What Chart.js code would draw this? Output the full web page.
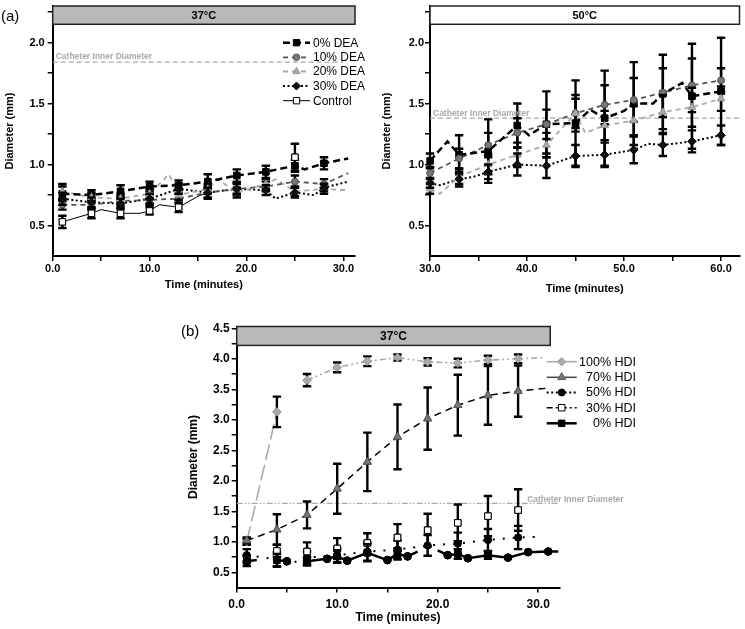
<!DOCTYPE html>
<html><head><meta charset="utf-8">
<script src="https://cdn.jsdelivr.net/npm/chart.js@4.4.1/dist/chart.umd.min.js"></script>
<style>
html,body{margin:0;padding:0;background:#fff;width:745px;height:629px;overflow:hidden}
.box{position:absolute}
.lab{position:absolute;font:15px "Liberation Sans",Arial,sans-serif;color:#000;z-index:5}
</style></head><body>
<div class="box" style="left:0;top:0;width:370px;height:300px"><canvas id="cA"></canvas></div>
<div class="box" style="left:370px;top:0;width:375px;height:300px"><canvas id="cB"></canvas></div>
<div class="box" style="left:170px;top:300px;width:480px;height:329px"><canvas id="cC"></canvas></div>
<div class="lab" style="left:1px;top:7px">(a)</div>
<div class="lab" style="left:181px;top:322px">(b)</div>
<script>
// ================= DATA =================
// Panel (a) – 37 °C, DEA series (time in minutes, diameter in mm, error = ±SD; null error = no marker)
const a37_dea0_t = [1,4,7,10,13,16,19,22,25,26,28,30.5];
const a37_dea0_v = [0.76,0.75,0.78,0.82,0.83,0.86,0.91,0.94,0.99,0.96,1.01,1.05];
const a37_dea0_e = [0.06,0.04,0.05,0.04,0.04,0.06,0.05,0.05,0.05,null,0.05,null];
const a37_dea10_t = [1,4,7,10,13,16,19,22,25,28,30.5];
const a37_dea10_v = [0.67,0.67,0.70,0.71,0.72,0.77,0.80,0.82,0.86,0.84,0.93];
const a37_dea10_e = [0.04,0.04,0.04,0.04,0.04,0.05,0.05,0.04,0.05,0.04,null];
const a37_dea20_t = [1,4,7,10,12,13,16,17,19,22,23,25,28,30.5];
const a37_dea20_v = [0.78,0.73,0.72,0.76,0.92,0.75,0.80,0.88,0.77,0.84,0.88,0.78,0.80,0.79];
const a37_dea20_e = [0.06,0.04,0.04,0.04,null,0.04,0.04,null,0.04,0.04,null,0.04,0.04,null];
const a37_dea30_t = [1,4,7,10,13,16,19,22,23,25,27,28,30.5];
const a37_dea30_v = [0.72,0.69,0.68,0.72,0.80,0.77,0.80,0.79,0.72,0.77,0.75,0.81,0.86];
const a37_dea30_e = [0.05,0.04,0.04,0.04,0.04,0.04,0.04,0.04,null,0.04,null,0.03,null];
const a37_ctrl_t = [1,4,5,7,9,10,11,13,15,16,17,25];
const a37_ctrl_v = [0.53,0.60,0.63,0.60,0.60,0.62,0.67,0.65,0.74,0.77,null,1.06];
const a37_ctrl_e = [0.05,0.04,null,0.04,null,0.03,null,0.04,null,null,null,0.11];
const a37_cath_t = [0,30];
const a37_cath_v = [1.84,1.84];

// Panel (a) – 50 °C
const a50_dea0_t = [30,31.8,33,36,39,40.2,42,45,46.5,48,50,51,53,54,56,57,60];
const a50_dea0_v = [1.03,1.19,1.08,1.11,1.32,1.24,1.33,1.34,1.45,1.38,1.44,1.50,1.50,1.58,1.67,1.56,1.60];
const a50_dea0_e = [0.06,null,0.16,0.26,0.18,null,0.27,0.35,null,0.39,null,0.34,null,0.32,null,0.43,0.44];
const a50_dea10_t = [30,33,36,39,42,45,48,51,54,57,60];
const a50_dea10_v = [0.93,1.05,1.16,1.26,1.33,1.42,1.49,1.53,1.59,1.65,1.69];
const a50_dea10_e = [0.05,0.08,0.10,0.12,0.12,0.15,0.16,0.18,0.20,0.22,0.10];
const a50_dea20_t = [30,31,33,36,39,42,45,46,48,51,54,57,60];
const a50_dea20_v = [0.80,0.76,0.90,1.00,1.08,1.16,1.42,1.26,1.32,1.36,1.43,1.47,1.54];
const a50_dea20_e = [0.04,null,0.06,0.08,0.10,0.10,0.12,null,0.12,0.12,0.14,0.16,0.10];
const a50_dea30_t = [30,31,33,34.5,36,39,42,45,48,51,52.5,54,57,60];
const a50_dea30_v = [0.85,0.83,0.88,0.90,0.94,1.00,0.99,1.07,1.08,1.12,1.17,1.16,1.19,1.24];
const a50_dea30_e = [0.04,null,0.06,null,0.06,0.09,0.10,0.09,0.10,0.11,null,0.09,0.09,0.08];
const a50_cath_t = [30,62];
const a50_cath_v = [1.38,1.38];

// Panel (b) – 37 °C, HDI series
const b_markerTimes = [1,4,7,10,13,16,19,22,25,28];
const b_hdi100_t = [1,4,7,10,13,16,19,22,25,28,30.5];
const b_hdi100_v = [1.00,3.13,3.65,3.86,3.96,4.02,3.95,3.93,3.98,4.00,4.02];
const b_hdi100_e = [0.05,0.25,0.10,0.08,0.08,0.05,0.06,0.07,0.07,0.07,null];
const b_hdi70_t = [1,4,7,10,13,16,19,22,25,28,31];
const b_hdi70_v = [1.02,1.20,1.44,1.87,2.31,2.72,3.02,3.24,3.40,3.47,3.52];
const b_hdi70_e = [0.05,0.25,0.22,0.41,0.48,0.53,0.51,0.50,0.48,0.42,null];
const b_hdi50_t = [1,4,5,7,10,13,16,19,22,25,28,30];
const b_hdi50_v = [0.78,0.71,0.62,0.74,0.78,0.84,0.87,0.94,0.97,1.03,1.07,1.08];
const b_hdi50_e = [0.10,0.12,null,0.10,0.12,0.15,0.15,0.17,0.18,0.18,0.19,null];
const b_hdi30_t = [1,4,7,10,13,16,19,22,25,28];
const b_hdi30_v = [0.72,0.85,0.84,0.89,0.98,1.07,1.19,1.31,1.42,1.52];
const b_hdi30_e = [0.06,0.10,0.15,0.17,0.16,0.22,0.27,0.30,0.33,0.34];
const b_hdi0_t = [1,2,3,4,5,6,7,9,10,11,13,15,16,17,18,19,20,21,22,23,25,27,29,31,32];
const b_hdi0_v = [0.68,0.70,null,0.70,0.68,null,0.68,0.72,0.76,0.69,0.82,0.70,0.80,0.76,0.84,null,0.86,0.78,0.80,0.73,0.78,0.74,0.83,0.84,0.84];
const b_hdi0_e = [0.08,null,null,0.10,0,null,0.07,0,0.10,0,0.14,0,0.09,0,null,null,null,0,0.08,0,0.06,0,0,0,null];
const b_cath_t = [0,32];
const b_cath_v = [1.63,1.63];

// Axis ticks
const xTicks37 = [0,10,20,30], xMinor37 = [5,15,25];
const xTicks50 = [30,40,50,60], xMinor50 = [35,45,55];
const yTicksA = [0.5,1.0,1.5,2.0], yMinorA = [0.75,1.25,1.75,2.25];
const yTicksB = [0.5,1.0,1.5,2.0,2.5,3.0,3.5,4.0,4.5], yMinorB = [0.75,1.25,1.75,2.25,2.75,3.25,3.75,4.25];

// ================= HELPERS =================
const FONT = '"Liberation Sans", Arial, sans-serif';
Chart.defaults.font.family = FONT;
Chart.defaults.color = '#000';

function pts(t, v){ return t.map((x,i)=>({x:x, y:v[i]})); }
function series(label, t, v, err, st){
  const ds = Object.assign({
    label, data: pts(t,v), errors: err, showInLegend: true,
    fill:false, tension:0, spanGaps:false, pointHoverRadius:0, pointBorderWidth:1
  }, st);
  ds.pointRadius = ctx => (err[ctx.dataIndex]==null ? 0 : (st.rFn ? st.rFn(ctx) : st.r));
  return ds;
}
function refLine(t, v, dash, color){
  return {data: pts(t,v), borderColor: color, borderWidth: 1.2, borderDash: dash,
          pointRadius: 0, showInLegend:false, fill:false, tension:0};
}
function drawMarker(ctx, style, x, y, r, fill, stroke){
  ctx.beginPath();
  if(style==='circle') ctx.arc(x,y,r,0,2*Math.PI);
  else if(style==='rect'){ const s=r*Math.SQRT1_2; ctx.rect(x-s,y-s,2*s,2*s); }
  else if(style==='rectRot'){ ctx.moveTo(x,y-r); ctx.lineTo(x+r,y); ctx.lineTo(x,y+r); ctx.lineTo(x-r,y); ctx.closePath(); }
  else if(style==='triangle'){ ctx.moveTo(x,y-r); ctx.lineTo(x+r*0.866,y+r*0.5); ctx.lineTo(x-r*0.866,y+r*0.5); ctx.closePath(); }
  ctx.fillStyle=fill; ctx.fill(); ctx.strokeStyle=stroke; ctx.lineWidth=1; ctx.stroke();
}

const errorBars = {
  id:'errorBars',
  afterDatasetsDraw(chart){
    const ctx=chart.ctx, ys=chart.scales.y;
    chart.data.datasets.forEach((ds,i)=>{
      if(!ds.errors) return;
      const meta=chart.getDatasetMeta(i);
      meta.data.forEach((pt,j)=>{
        const e=ds.errors[j], v=ds.data[j].y;
        if(e==null || !e || v==null) return;
        const top=ys.getPixelForValue(v+e), bot=ys.getPixelForValue(v-e);
        ctx.save(); ctx.strokeStyle='#000'; ctx.lineWidth=2.4;
        ctx.beginPath();
        ctx.moveTo(pt.x,top); ctx.lineTo(pt.x,bot);
        ctx.moveTo(pt.x-4.2,top); ctx.lineTo(pt.x+4.2,top);
        ctx.moveTo(pt.x-4.2,bot); ctx.lineTo(pt.x+4.2,bot);
        ctx.stroke(); ctx.restore();
      });
      meta.data.forEach((pt,j)=>{ if(ds.errors[j]!=null && ds.data[j].y!=null) pt.draw(ctx); });
    });
  }
};
const header = {
  id:'header',
  afterDraw(chart,args,o){
    if(!o || !o.text) return;
    const ctx=chart.ctx, xs=chart.scales.x, ys=chart.scales.y;
    const x0=xs.getPixelForValue(o.x0), x1=xs.getPixelForValue(o.x1);
    const y0=ys.getPixelForValue(o.y1), y1=ys.getPixelForValue(o.y0);
    ctx.save();
    ctx.fillStyle=o.fill; ctx.fillRect(x0,y0,x1-x0,y1-y0);
    ctx.strokeStyle='#222'; ctx.lineWidth=1.5; ctx.strokeRect(x0,y0,x1-x0,y1-y0);
    ctx.fillStyle='#000'; ctx.font='bold '+o.fs+'px '+FONT; ctx.textAlign='center'; ctx.textBaseline='middle';
    ctx.fillText(o.text,(x0+x1)/2,(y0+y1)/2+0.5);
    ctx.restore();
  }
};
const refLabel = {
  id:'refLabel',
  afterDatasetsDraw(chart,args,o){
    if(!o || !o.text) return;
    const ctx=chart.ctx, xs=chart.scales.x, ys=chart.scales.y;
    ctx.save();
    ctx.fillStyle='#a8a8a8'; ctx.font='bold 8.5px '+FONT; ctx.textAlign='left'; ctx.textBaseline='middle';
    ctx.fillText(o.text, xs.getPixelForValue(o.x)+o.dx, ys.getPixelForValue(o.y)+o.dy);
    ctx.restore();
  }
};
const legendPlug = {
  id:'legendPlug',
  afterDraw(chart,args,o){
    if(!o || !o.rows) return;
    const ctx=chart.ctx; let k=0;
    chart.data.datasets.forEach(ds=>{
      if(!ds.showInLegend) return;
      const y=o.rows[k++];
      ctx.save();
      ctx.strokeStyle=ds.legendColor||ds.borderColor; ctx.lineWidth=ds.borderWidth;
      ctx.setLineDash(ds.legendDash||ds.borderDash||[]);
      ctx.beginPath(); ctx.moveTo(o.x0,y); ctx.lineTo(o.x1,y); ctx.stroke();
      ctx.setLineDash([]);
      drawMarker(ctx, ds.legendStyle||ds.pointStyle, (o.x0+o.x1)/2, y, ds.r, ds.pointBackgroundColor, ds.pointBorderColor);
      ctx.fillStyle='#000'; ctx.font=o.fs+'px '+FONT; ctx.textAlign=o.align; ctx.textBaseline='middle';
      ctx.fillText(ds.label, o.tx, y+0.5);
      ctx.restore();
    });
  }
};

function axes(o){
  const zeroPad = s=>{ s.paddingLeft=0; s.paddingRight=0; s.paddingTop=0; s.paddingBottom=0; };
  return {
    x:{type:'linear', min:o.xmin, max:o.xmax,
      afterBuildTicks:s=>{ s.ticks=o.xt.concat(o.xm).sort((a,b)=>a-b).map(v=>({value:v})); },
      afterFit:s=>{ s.height=o.xh; zeroPad(s); },
      ticks:{autoSkip:false, maxRotation:0, minRotation:0, padding:o.xpad, color:'#000',
        font:{size:o.fs, weight:'bold'}, callback:v=> o.xt.includes(v) ? v.toFixed(1) : ''},
      grid:{drawOnChartArea:false, color:'#000', lineWidth:1.5, tickLength:5},
      border:{color:'#000', width:2},
      title:{display:true, text:'Time (minutes)', color:'#000', font:{size:o.fs, weight:'bold'}, padding:{top:0,bottom:o.xtp}}
    },
    y:{type:'linear', min:o.ymin, max:o.ymax,
      afterBuildTicks:s=>{ s.ticks=o.yt.concat(o.ym).sort((a,b)=>a-b).map(v=>({value:v})); },
      afterFit:s=>{ s.width=o.yw; zeroPad(s); },
      ticks:{autoSkip:false, padding:o.ypad, color:'#000',
        font:{size:o.fs, weight:'bold'}, callback:v=> o.yt.includes(v) ? v.toFixed(1) : ''},
      grid:{drawOnChartArea:false, color:'#000', lineWidth:1.5, tickLength:5},
      border:{color:'#000', width:2},
      title:{display:true, text:'Diameter (mm)', color:'#000', font:{size:o.fs, weight:'bold'}, padding:{top:o.ytp,bottom:0}}
    }
  };
}
function baseOpts(pad, scales, plugins){
  return {responsive:true, maintainAspectRatio:false, animation:false, events:[],
    layout:{padding:pad}, scales,
    plugins:Object.assign({legend:{display:false}, tooltip:{enabled:false}}, plugins)};
}

// ---- styles ----
const S = {
  dea0:{borderColor:'#000', borderWidth:2.5, borderDash:[7,4], pointStyle:'rect', pointBackgroundColor:'#000', pointBorderColor:'#000', r:4.5},
  dea10:{borderColor:'#555', borderWidth:1.8, borderDash:[5,4], pointStyle:'circle', pointBackgroundColor:'#777', pointBorderColor:'#555', r:3.3},
  dea20:{borderColor:'#aaa', borderWidth:1.8, borderDash:[5,4], pointStyle:'triangle', pointBackgroundColor:'#aaa', pointBorderColor:'#999', r:4.2},
  dea30:{borderColor:'#000', borderWidth:2, borderDash:[2,2.5], pointStyle:'rectRot', pointBackgroundColor:'#111', pointBorderColor:'#000', r:4},
  ctrl:{borderColor:'#000', borderWidth:1, borderDash:[], pointStyle:'rect', pointBackgroundColor:'#fff', pointBorderColor:'#000', r:4.5}
};

// ================= CHART A (37 °C) =================
new Chart(document.getElementById('cA'), {
  type:'line',
  data:{datasets:[
    series('0% DEA', a37_dea0_t, a37_dea0_v, a37_dea0_e, S.dea0),
    series('10% DEA', a37_dea10_t, a37_dea10_v, a37_dea10_e, S.dea10),
    series('20% DEA', a37_dea20_t, a37_dea20_v, a37_dea20_e, S.dea20),
    series('30% DEA', a37_dea30_t, a37_dea30_v, a37_dea30_e, S.dea30),
    series('Control', a37_ctrl_t, a37_ctrl_v, a37_ctrl_e, S.ctrl),
    refLine(a37_cath_t, a37_cath_v, [5,3], '#aaa')
  ]},
  options: baseOpts({left:0,right:15,top:6,bottom:0},
    axes({fs:11,xmin:0,xmax:31.2,xt:xTicks37,xm:xMinor37,xh:44,xpad:1,xtp:8,
          ymin:0.25,ymax:2.3,yt:yTicksA,ym:yMinorA,yw:52.7,ypad:3,ytp:3}),
    {header:{text:'37°C', fs:11, fill:'#b9b9b9', x0:0, x1:31.2, y0:2.15, y1:2.3},
     refLabel:{text:'Catheter Inner Diameter', x:0, y:1.84, dx:3, dy:-5},
     legendPlug:{fs:12, rows:[42.7,57.3,71.5,86,100.7], x0:283, x1:310, tx:313, align:'left'}}),
  plugins:[errorBars, header, refLabel, legendPlug]
});

// ================= CHART B (50 °C) =================
new Chart(document.getElementById('cB'), {
  type:'line',
  data:{datasets:[
    series('0% DEA', a50_dea0_t, a50_dea0_v, a50_dea0_e, S.dea0),
    series('10% DEA', a50_dea10_t, a50_dea10_v, a50_dea10_e, S.dea10),
    series('20% DEA', a50_dea20_t, a50_dea20_v, a50_dea20_e, S.dea20),
    series('30% DEA', a50_dea30_t, a50_dea30_v, a50_dea30_e, S.dea30),
    refLine(a50_cath_t, a50_cath_v, [5,3], '#aaa')
  ]},
  options: baseOpts({left:0,right:4.3,top:6,bottom:0},
    axes({fs:11,xmin:30,xmax:61.9,xt:xTicks50,xm:xMinor50,xh:44,xpad:1,xtp:4,
          ymin:0.25,ymax:2.3,yt:yTicksA,ym:yMinorA,yw:60,ypad:1,ytp:10}),
    {header:{text:'50°C', fs:11, fill:'#ffffff', x0:30, x1:61.9, y0:2.15, y1:2.3},
     refLabel:{text:'Catheter Inner Diameter', x:30, y:1.38, dx:3, dy:-5}}),
  plugins:[errorBars, header, refLabel]
});

// ================= CHART C (HDI) =================
const SB = {
  h100:{borderColor:'#aaa', borderWidth:1.6, borderDash:[6,3,2,3,2,3], pointStyle:'rectRot', pointBackgroundColor:'#aaa', pointBorderColor:'#999', r:4.2, legendDash:[],
        segment:{borderDash: c => c.p0DataIndex===0 ? [16,5] : [6,3,2,3,2,3],
                 borderColor: c => c.p0DataIndex===1 ? 'rgba(0,0,0,0)' : '#aaa'}},
  h70:{borderColor:'#000', borderWidth:1.5, borderDash:[7,5], pointStyle:'triangle', pointBackgroundColor:'#777', pointBorderColor:'#555', r:4.6, legendDash:[], legendColor:'#444'},
  h50:{borderColor:'#000', borderWidth:2, borderDash:[2,8], pointStyle:'circle', pointBackgroundColor:'#000', pointBorderColor:'#000', r:3.5, legendDash:[2,2.5]},
  h30:{borderColor:'#000', borderWidth:1.6, borderDash:[6,3,2,3], showLine:false, pointStyle:'rect', pointBackgroundColor:'#fff', pointBorderColor:'#000', r:4.6},
  h0:{borderColor:'#000', borderWidth:2.5, borderDash:[], pointBackgroundColor:'#000', pointBorderColor:'#000', r:4.6, legendStyle:'rect',
      pointStyle: c => (b_markerTimes.includes(b_hdi0_t[c.dataIndex]) ? 'rect' : 'circle'),
      rFn: c => (b_markerTimes.includes(b_hdi0_t[c.dataIndex]) ? 4.6 : 3.8)}
};
new Chart(document.getElementById('cC'), {
  type:'line',
  data:{datasets:[
    series('100% HDI', b_hdi100_t, b_hdi100_v, b_hdi100_e, SB.h100),
    series('70% HDI', b_hdi70_t, b_hdi70_v, b_hdi70_e, SB.h70),
    series('50% HDI', b_hdi50_t, b_hdi50_v, b_hdi50_e, SB.h50),
    series('30% HDI', b_hdi30_t, b_hdi30_v, b_hdi30_e, SB.h30),
    series('0% HDI', b_hdi0_t, b_hdi0_v, b_hdi0_e, SB.h0),
    refLine(b_cath_t, b_cath_v, [6,2,1.5,2,1.5,2], '#aaa')
  ]},
  options: baseOpts({left:0,right:90.7,top:26.5,bottom:0},
    axes({fs:12,xmin:0,xmax:32.1,xt:xTicks37,xm:xMinor37,xh:41.5,xpad:5,xtp:4,
          ymin:0.25,ymax:4.53,yt:yTicksB,ym:yMinorB,yw:66.7,ypad:2,ytp:16}),
    {header:{text:'37°C', fs:12, fill:'#b9b9b9', x0:0, x1:31.2, y0:4.22, y1:4.53},
     refLabel:{text:'Catheter Inner Diameter', x:28.9, y:1.63, dx:0, dy:-4},
     legendPlug:{fs:12.5, rows:[61.7,77.3,92.5,107.7,123.3], x0:376.7, x1:406.7, tx:466, align:'right'}}),
  plugins:[errorBars, header, refLabel, legendPlug]
});
</script>
</body></html>
